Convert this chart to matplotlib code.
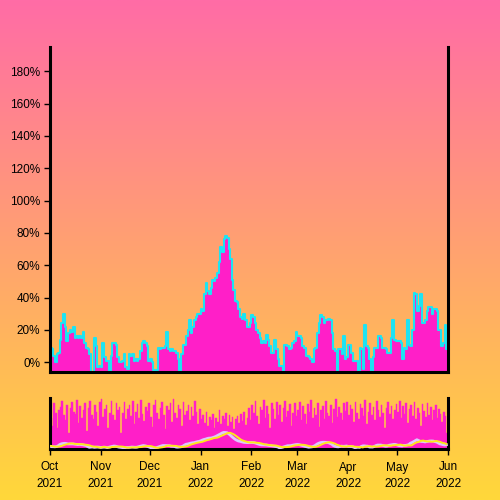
import numpy as np
import pandas as pd
import matplotlib
matplotlib.use("Agg")
import matplotlib.pyplot as plt
import matplotlib.dates as mdates
from matplotlib.ticker import FuncFormatter

# --- DATA ---
start_date = "2021-10-01"
end_date = "2022-06-01"

# daily change (%), Oct 1 2021 .. May 31 2022
change_pct = [
    9, 8, 4, 0, 5, 6, 14, 24, 30, 22, 13, 18, 20, 19, 22, 15, 16, 15, 16, 15,
    19, 12, 9, 8, 5, -6, -6, 15, 10, -3, -2, -3, 12, 3, 1, 1, -6, 4, 12, 12,
    11, 3, 0, 0, 1, 5, -3, -4, 5, 4, 5, 1, 2, 1, 2, 7, 12, 13, 12, 10,
    1, 2, 0, -5, -5, -5, 9, 8, 9, 9, 10, 19, 8, 7, 8, 7, 7, 6, 2, -6,
    5, 11, 11, 16, 20, 26, 18, 22, 26, 28, 30, 30, 33, 32, 42, 49, 44, 42, 46, 51,
    50, 52, 55, 62, 71, 68, 76, 78, 77, 70, 64, 51, 45, 38, 37, 33, 28, 27, 30, 26,
    22, 22, 24, 29, 28, 24, 20, 18, 15, 12, 13, 12, 17, 14, 10, 6, 6, 14, 8, 2,
    -2, -2, -6, 11, 11, 10, 8, 9, 12, 13, 19, 16, 16, 15, 10, 9, 4, 4, 3, 2,
    0, 8, 9, 18, 24, 29, 28, 24, 26, 26, 27, 26, 18, 8, 7, -6, 8, 8, 5, 16,
    2, 3, 11, 11, 6, 1, 1, 1, -6, 9, 8, -4, 23, 10, 9, 2, -6, 3, 9, 9,
    16, 16, 15, 9, 9, 8, 6, 6, 15, 26, 14, 13, 13, 13, 12, 2, 9, 8, 26, 11,
    10, 20, 43, 42, 32, 35, 42, 24, 24, 26, 32, 34, 34, 30, 33, 33, 32, 20, 20, 10,
    12, 23, 8,
]

# daily volume shown as bars in the lower overview panel
volume = [
    60, 45, 88, 70, 40, 75, 80, 92, 65, 55, 85, 30, 78, 90, 72, 68, 95, 50, 82, 60, 74, 88, 35, 79, 93, 66, 58, 84, 71, 45, 90,
    96, 62, 77, 85, 40, 70, 92, 66, 55, 88, 74, 81, 30, 69, 90, 58, 76, 84, 64, 93, 48, 72, 86, 60, 95, 67, 54, 80, 73, 89,
    62, 42, 85, 94, 70, 58, 78, 91, 65, 38, 82, 74, 88, 52, 96, 69, 60, 84, 77, 45, 90, 66, 73, 85, 56, 80, 63, 92, 71, 48, 76,
    58, 66, 50, 72, 44, 62, 55, 68, 40, 60, 52, 75, 48, 64, 57, 70, 45, 66, 52, 61, 38, 58, 63, 50, 68, 54, 72, 46, 60, 78, 55,
    85, 70, 92, 63, 48, 80, 74, 95, 60, 82, 68, 40, 88, 76, 58, 90, 66, 84, 52, 78, 93, 61, 73, 86, 45, 70, 89, 64,
    75, 90, 56, 82, 68, 48, 86, 72, 94, 60, 79, 66, 88, 42, 74, 83, 58, 92, 70, 64, 85, 50, 77, 96, 62, 81, 69, 55, 88, 73, 90,
    65, 84, 76, 52, 91, 70, 58, 86, 79, 63, 94, 48, 72, 88, 66, 80, 55, 92, 74, 61, 85, 69, 40, 78, 90, 67, 83, 57, 75, 87,
    71, 93, 60, 82, 68, 88, 50, 76, 85, 64, 91, 58, 79, 70, 45, 86, 73, 62, 89, 66, 80, 55, 74, 84, 60, 77, 68, 52, 71, 63, 30,
]

y_ticks = [0, 20, 40, 60, 80, 100, 120, 140, 160, 180]

# --- COLOURS ---
MAGENTA = "#ff1fc8"
CYAN = "#1ee3f2"
LAVENDER = "#dcc8ff"
YELLOW = "#ffe81a"
TOP_BG = np.array([255, 108, 166]) / 255
BOTTOM_BG = np.array([255, 216, 58]) / 255

dates = pd.date_range(start_date, periods=len(change_pct), freq="D")
edges = list(dates) + [pd.Timestamp(end_date)]
vals_step = change_pct + [change_pct[-1]]
s = pd.Series(change_pct, index=dates, dtype=float)

plt.rcParams["font.family"] = ["Liberation Sans", "DejaVu Sans"]

fig = plt.figure(figsize=(5, 5), dpi=100)

# gradient background
bg = fig.add_axes([0, 0, 1, 1], zorder=-10)
t = np.linspace(0, 1, 256)[:, None]
grad = TOP_BG[None, :] * (1 - t) + BOTTOM_BG[None, :] * t
bg.imshow(grad[:, None, :], aspect="auto", extent=[0, 1, 0, 1])
bg.axis("off")

# --- MAIN CHART ---
ax = fig.add_axes([0.100, 0.256, 0.796, 0.650])
ax.set_facecolor("none")
ax.fill_between(edges, vals_step, -20, step="post", color=MAGENTA, lw=0)
ax.step(edges, vals_step, where="post", color=CYAN, lw=1.5)
ax.set_xlim(pd.Timestamp(start_date), pd.Timestamp(end_date))
ax.set_ylim(-6, 195)
ax.set_yticks(y_ticks)
ax.yaxis.set_major_formatter(FuncFormatter(lambda v, p: f"{v:.0f}%"))
ax.tick_params(axis="y", length=4, width=1, pad=3, labelsize=8.5, colors="black")
ax.set_xticks([])
for side in ["left", "right", "bottom"]:
    ax.spines[side].set_linewidth(2.2)
    ax.spines[side].set_color("black")
ax.spines["top"].set_visible(False)

# --- OVERVIEW PANEL ---
mini = fig.add_axes([0.100, 0.102, 0.796, 0.102])
mini.set_facecolor("none")
mini.bar(dates, volume, width=1.0, align="edge", color=MAGENTA,
         edgecolor=MAGENTA, lw=0.3)
mini.set_xlim(pd.Timestamp(start_date), pd.Timestamp(end_date))
mini.set_ylim(0, 98)
mini.set_yticks([])
mini.xaxis.set_major_locator(mdates.MonthLocator())
mini.xaxis.set_major_formatter(mdates.DateFormatter("%b\n%Y"))
mini.tick_params(axis="x", length=4, width=1, pad=5, labelsize=8.5)
for lbl in mini.get_xticklabels():
    lbl.set_linespacing(1.5)
for side in ["left", "right", "bottom"]:
    mini.spines[side].set_linewidth(2.2)
mini.spines["top"].set_visible(False)

lines = mini.twinx()
lines.plot(dates, s.rolling(5, center=True, min_periods=1).mean(), color=LAVENDER, lw=2.0)
lines.plot(dates, s.rolling(7, min_periods=1).mean(), color=YELLOW, lw=1.4)
lines.set_ylim(-6, 240)
lines.set_yticks([])
lines.set_xlim(pd.Timestamp(start_date), pd.Timestamp(end_date))
for side in lines.spines:
    lines.spines[side].set_visible(False)

fig.savefig("out.png", dpi=100)
